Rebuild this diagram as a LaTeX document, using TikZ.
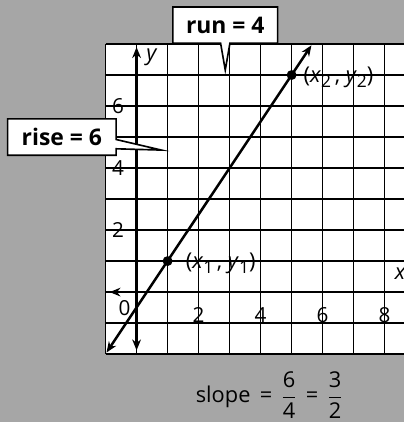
\documentclass[tikz,border=0pt]{standalone}
\usepackage{amsmath}
\usepackage{fontspec}
\setmainfont{Open Sans}
\usetikzlibrary{shapes.callouts,arrows.meta,positioning}
\newcommand{\lowsub}[1]{\raisebox{-5pt}{\fontsize{16}{18}\selectfont #1}}

\begin{document}
\begin{tikzpicture}[x=1cm, y=1cm,
    gridln/.style={line width=1.4pt},
    axis/.style={line width=2.3pt, {Stealth[length=10pt,width=8pt]}-{Stealth[length=10pt,width=8pt]}},
    tag/.style={rectangle callout, draw, line width=1.5pt, fill=white, inner sep=2pt,
      minimum height=1.17cm, font=\fontsize{21}{24}\selectfont\bfseries, callout pointer width=0.3cm},
    num/.style={font=\fontsize{19}{22}\selectfont},
    pt/.style={circle, fill, inner sep=0pt, minimum size=0.32cm}]
  % speckled page and the grid paper
  \useasboundingbox (-4.405,-4.19) rectangle (8.62,9.42);
  \fill[black!35] (-4.405,-4.19) rectangle (8.62,9.42);
  \begin{scope}
    \clip (-4.405,-4.19) rectangle (8.62,9.42);
    \fill[white] (-1,-2) rectangle (9,8);
    \foreach \x in {-1,...,8} \draw[gridln] (\x,-2) -- (\x,8);
    \foreach \y in {-2,...,8} \draw[gridln] (-1,\y) -- (9,\y);
    % axes
    \coordinate (xl) at (-0.87,0); \coordinate (xr) at (9.2,0);
    \coordinate (yb) at (0,-1.88); \coordinate (yt) at (0,7.9);
    \draw[axis] (xl) -- (xr);
    \draw[axis] (yb) -- (yt);
    \node[num, font=\fontsize{20}{22}\selectfont\itshape] (xlab) at (8.5,0.61) {x};
  \end{scope}
  \node[num, font=\fontsize{20}{22}\selectfont\itshape] (ylab) at (0.48,7.58) {y};
  \node[num] (zero) at (-0.39,-0.52) {0};
  \foreach \x in {2,4,6,8} \node[num] (tx\x) at (\x,-0.75) {\x};
  \foreach \y in {2,4,6} \node[num] (ty\y) at (-0.6,\y) {\y};
  % the line through the two points
  \node[pt] (p1) at (1,1) {};
  \node[pt] (p2) at (5,7) {};
  \coordinate (lo) at (-0.97,-1.95); \coordinate (hi) at (5.64,7.96);
  \draw[axis] (lo) -- (hi);
  \node[num, font=\fontsize{20}{22}\selectfont, right=0.3cm of p1, yshift=-2pt] (l1)
    {(\textit{x}\lowsub{1}\,, \textit{y}\lowsub{1})};
  \node[num, font=\fontsize{20}{22}\selectfont, right=0.1cm of p2, yshift=-2pt] (l2)
    {(\textit{x}\lowsub{2}\,, \textit{y}\lowsub{2})};
  % callouts
  \coordinate (runtip) at (2.86,7.16);
  \coordinate (risetip) at (0.8,4.58);
  \node[tag, minimum width=3.38cm, callout absolute pointer={(runtip)}] (run) at (2.86,8.61) {run = 4};
  \node[tag, minimum width=3.5cm, callout absolute pointer={(risetip)}] (rise) at (-2.41,5.0) {rise = 6};
  % slope
  \node[num, font=\fontsize{20}{22}\selectfont] (slope) at (4.28,-3.32)
    {slope\, = \,$\dfrac{\text{6}}{\text{4}}$\, = \,$\dfrac{\text{3}}{\text{2}}$};
\end{tikzpicture}
\end{document}
